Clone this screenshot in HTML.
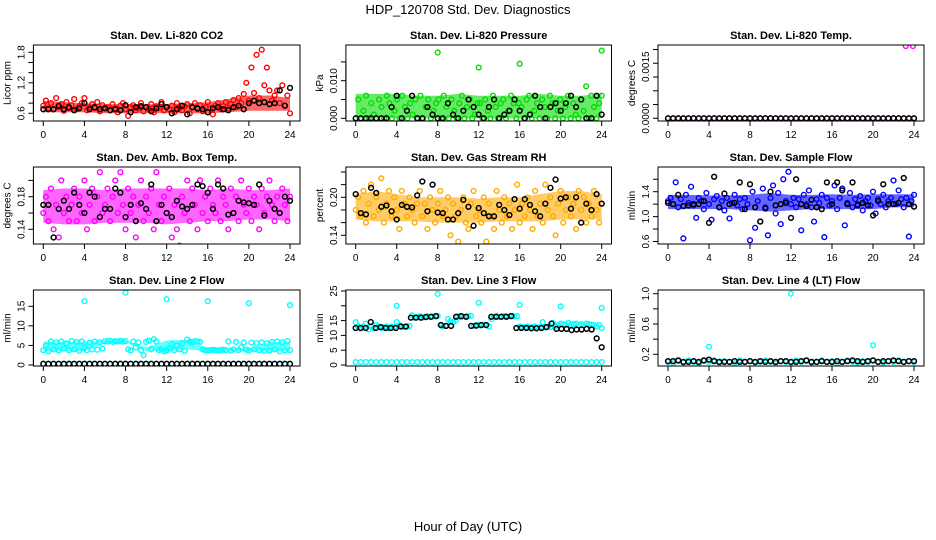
<!DOCTYPE html>
<html><head><meta charset="utf-8"><style>
html,body{margin:0;padding:0;background:#fff;}
svg{display:block;font-family:"Liberation Sans",Arial,sans-serif;}
</style></head><body>
<svg id="chart" width="936" height="540" viewBox="0 0 936 540" xmlns="http://www.w3.org/2000/svg">
<text x="468" y="14" text-anchor="middle" font-size="13">HDP_120708  Std. Dev. Diagnostics</text>
<text x="468" y="531" text-anchor="middle" font-size="13">Hour of Day (UTC)</text>
<g id="panels"></g>
</svg>
<script>
// ---- data ----
const xTicks = [0,4,8,12,16,20,24];

const co2Color = [0.75,0.85,0.7,0.8,0.68,0.9,0.72,0.78,0.65,0.82,0.7,0.76,0.88,0.68,0.74,0.8,0.9,0.66,0.72,0.78,0.7,0.82,0.64,0.76,0.7,
0.72,0.66,0.78,0.7,0.62,0.75,0.8,0.68,0.55,0.72,0.76,0.66,0.7,0.8,0.64,0.72,0.68,0.78,0.62,0.74,0.7,0.82,0.66,0.72,
0.68,0.75,0.62,0.8,0.7,0.66,0.74,0.78,0.6,0.72,0.8,0.68,0.76,0.64,0.72,0.82,0.7,0.58,0.75,0.8,0.68,0.74,0.82,0.7,
0.78,0.86,0.72,0.9,0.8,0.98,1.2,0.85,1.5,1.0,1.75,0.9,1.85,1.15,1.5,1.05,0.85,0.95,1.05,0.8,1.15,0.75,0.95,0.6];
const co2Black = [0.68,0.68,0.68,0.75,0.68,0.72,0.66,0.7,0.8,0.68,0.72,0.68,0.7,0.66,0.68,0.66,0.76,0.62,0.72,0.74,0.72,0.64,0.7,0.78,0.72,0.6,0.68,0.75,0.58,0.72,0.7,0.68,0.62,0.7,0.72,0.68,0.66,0.72,0.75,0.68,0.8,0.85,0.8,0.82,0.78,0.8,1.05,0.75,1.1];
const co2Lo = [0.62,0.62,0.62,0.6,0.6,0.6,0.6,0.6,0.6,0.62,0.65,0.65,0.65];
const co2Hi = [0.85,0.82,0.8,0.78,0.78,0.78,0.78,0.8,0.82,0.88,0.95,0.95,0.9];

const presColor = [0,0.005,0,0.002,0.006,0,0.004,0.001,0,0.005,0.003,0,0.006,0.004,0,0.002,0.005,0,0.006,0.003,0,0.004,0.001,0.005,0,
0.006,0,0.003,0.005,0,0.002,0.004,0.005,0,0.006,0.003,0,0.005,0.002,0,0.004,0.006,0,0.003,0.005,0,0.001,0.004,0.004,
0,0.005,0.002,0,0.006,0.003,0,0.004,0.005,0,0.002,0.006,0.004,0,0.004,0.003,0,0.005,0.006,0,0.002,0.004,0,0.005,
0.003,0,0.006,0.004,0,0.002,0.005,0,0.003,0.006,0,0.004,0.001,0,0.005,0.002,0.0085,0,0.006,0.003,0,0.004,0.006];
const presBlack = [0,0,0,0,0,0,0,0.003,0.006,0,0.002,0.006,0,0,0.003,0.001,0,0,0.004,0.001,0,0.002,0.005,0.003,0.001,0,0.003,0.005,0,0.001,0.002,0.005,0.002,0,0.001,0.006,0.003,0,0.003,0.004,0.002,0.004,0.006,0.003,0.005,0,0,0.006,0.001];
const presLo = [0,0,0,0,0,0,0,0,0,0,0,0,0];
const presHi = [0.0065,0.0065,0.0065,0.006,0.006,0.0065,0.006,0.006,0.006,0.0065,0.006,0.006,0.0065];
const presOutX = [8,12,16,24];
const presOutY = [0.0175,0.0135,0.0145,0.018];

const tempColor = [0,0,0,0,0,0,0,0,0,0,0,0,0,0,0,0,0,0,0,0,0,0,0,0,0,0,0,0,0,0,0,0,0,0,0,0,0,0,0,0,0,0,0,0,0,0,0,0,0];
const tempBlack = [0,0,0,0,0,0,0,0,0,0,0,0,0,0,0,0,0,0,0,0,0,0,0,0,0,0,0,0,0,0,0,0,0,0,0,0,0,0,0,0,0,0,0,0,0,0,0,0,0];
const tempOutX = [23.2,23.9];
const tempOutY = [0.0021,0.0021];

const boxColor = [0.16,0.18,0.15,0.19,0.14,0.17,0.13,0.2,0.16,0.18,0.15,0.17,0.19,0.15,0.18,0.16,0.2,0.14,0.17,0.19,0.15,0.18,0.21,0.16,0.17,
0.19,0.15,0.18,0.2,0.16,0.21,0.17,0.14,0.19,0.16,0.18,0.13,0.17,0.2,0.15,0.18,0.16,0.19,0.14,0.21,0.17,0.15,0.18,
0.16,0.19,0.13,0.17,0.14,0.12,0.18,0.16,0.2,0.15,0.19,0.17,0.14,0.2,0.16,0.18,0.15,0.19,0.17,0.16,0.2,0.15,0.18,0.17,
0.14,0.19,0.16,0.18,0.15,0.2,0.17,0.16,0.19,0.15,0.18,0.17,0.14,0.19,0.16,0.18,0.2,0.17,0.15,0.18,0.16,0.19,0.17,0.15,0.18];
const boxBlack = [0.17,0.17,0.13,0.165,0.175,0.165,0.185,0.17,0.16,0.185,0.18,0.155,0.165,0.165,0.19,0.185,0.155,0.17,0.15,0.172,0.165,0.195,0.15,0.17,0.16,0.155,0.175,0.168,0.165,0.17,0.195,0.193,0.185,0.165,0.195,0.19,0.158,0.16,0.175,0.173,0.172,0.17,0.195,0.157,0.175,0.165,0.16,0.18,0.175];
const boxLo = [0.148,0.146,0.146,0.148,0.148,0.148,0.146,0.148,0.15,0.15,0.152,0.152,0.15];
const boxHi = [0.188,0.19,0.19,0.188,0.19,0.19,0.19,0.19,0.188,0.19,0.188,0.188,0.19];

const rhColor = [0.18,0.2,0.17,0.21,0.16,0.19,0.22,0.17,0.2,0.18,0.23,0.16,0.19,0.21,0.17,0.2,0.18,0.15,0.21,0.19,0.17,0.2,0.18,0.16,0.19,
0.21,0.17,0.19,0.15,0.2,0.18,0.16,0.19,0.21,0.17,0.18,0.2,0.14,0.19,0.17,0.13,0.18,0.2,0.16,0.15,0.19,0.21,0.17,
0.18,0.16,0.2,0.13,0.19,0.17,0.15,0.21,0.18,0.16,0.2,0.17,0.19,0.15,0.18,0.22,0.16,0.19,0.17,0.2,0.18,0.15,0.21,0.17,
0.19,0.16,0.22,0.18,0.2,0.17,0.14,0.19,0.21,0.16,0.18,0.2,0.17,0.19,0.15,0.21,0.18,0.2,0.16,0.19,0.17,0.21,0.18,0.16,0.19];
const rhBlack = [0.205,0.175,0.173,0.215,0.207,0.185,0.187,0.178,0.165,0.188,0.185,0.184,0.203,0.225,0.178,0.22,0.176,0.175,0.165,0.165,0.175,0.196,0.185,0.155,0.183,0.175,0.17,0.17,0.188,0.18,0.172,0.197,0.182,0.197,0.188,0.178,0.17,0.19,0.215,0.228,0.198,0.2,0.182,0.2,0.16,0.19,0.18,0.205,0.19];
const rhLo = [0.165,0.162,0.162,0.162,0.16,0.16,0.16,0.162,0.162,0.162,0.165,0.165,0.165];
const rhHi = [0.205,0.21,0.205,0.2,0.2,0.2,0.198,0.2,0.2,0.205,0.21,0.21,0.205];

const flowColor = [1.25,1.3,1.2,1.55,1.15,1.28,0.65,1.35,1.22,1.48,1.18,0.98,1.3,1.25,1.12,1.38,1.2,0.95,1.28,1.33,1.15,1.25,1.1,1.3,0.97,
1.22,1.35,1.18,1.28,1.12,1.3,1.2,0.62,1.4,0.82,1.25,0.92,1.45,1.15,0.7,1.3,1.5,1.05,1.38,0.88,1.6,1.25,1.72,1.2,
1.3,1.15,1.28,0.78,1.35,1.2,1.42,1.15,0.92,1.28,1.22,1.35,0.67,1.3,1.18,1.25,1.5,1.12,1.3,1.45,0.86,1.22,1.38,
1.15,1.28,1.2,1.33,1.1,1.25,1.3,1.18,1.4,1.05,1.28,1.2,1.35,1.15,1.25,1.3,1.58,1.2,1.42,1.28,1.15,1.3,0.68,1.25,1.35];
const flowBlack = [1.22,1.2,1.35,1.17,1.18,1.2,1.2,1.25,0.9,1.64,1.15,1.37,1.2,1.22,1.55,1.12,1.52,1.15,0.92,1.13,1.4,1.18,1.2,1.22,0.98,1.6,1.2,1.17,1.27,1.15,1.12,1.55,1.2,1.55,1.42,1.2,1.55,1.18,1.22,1.18,1.02,1.25,1.52,1.2,1.2,1.22,1.62,1.2,1.16];
const flowLo = [1.12,1.12,1.12,1.12,1.1,1.08,1.1,1.12,1.12,1.12,1.12,1.15,1.15];
const flowHi = [1.35,1.35,1.34,1.34,1.35,1.38,1.35,1.35,1.36,1.35,1.36,1.36,1.36];

const l2Color = [3.8,5,3.5,6,4,5.8,3.7,6,4.2,5.5,3.8,6.1,4,5.9,3.6,6,4.5,3.8,5.7,4,6,3.9,5.8,4.2,6.1,6,6.2,5.9,6.1,6,6.2,6,6.1,4,3.7,6,4.5,5.8,3.8,2.5,5.9,6.2,4,6.6,6,3.8,4,3.5,3.7,4.2,5.3,3.8,5,4,5.5,3.6,6.5,6,5.8,6.1,6,5.9,4,3.8,3.7,3.8,3.9,3.8,3.7,3.8,3.9,3.8,6,3.7,4,5.9,3.8,4.5,5.8,3.9,3.7,5.7,4,5.6,3.8,5.8,3.6,5.5,3.7,5.9,4,6,3.5,5.8,3.7,6.1,3.8];
const l2Zero = [0.3,0.3,0.3,0.3,0.3,0.3,0.3,0.3,0.3,0.3,0.3,0.3,0.3,0.3,0.3,0.3,0.3,0.3,0.3,0.3,0.3,0.3,0.3,0.3,0.3,0.3,0.3,0.3,0.3,0.3,0.3,0.3,0.3,0.3,0.3,0.3,0.3,0.3,0.3,0.3,0.3,0.3,0.3,0.3,0.3,0.3,0.3,0.3,0.3];
const l2Black = [0.3,0.3,0.3,0.3,0.3,0.3,0.3,0.3,0.3,0.3,0.3,0.3,0.3,0.3,0.3,0.3,0.3,0.3,0.3,0.3,0.3,0.3,0.3,0.3,0.3,0.3,0.3,0.3,0.3,0.3,0.3,0.3,0.3,0.3,0.3,0.3,0.3,0.3,0.3,0.3,0.3,0.3,0.3,0.3,0.3,0.3,0.3,0.3,0.3];
const l2Lo = [3.5,3.5,3.5,5.6,5.8,3.5,3.5,4,3.5,3.5,3.5,3.5,3.5];
const l2Hi = [6,6,6,6.2,6.3,4.5,6.3,6.5,4.2,4.2,4.2,5.8,6];
const l2OutX = [4,8,12,16,20,24];
const l2OutY = [16.3,18.5,16.8,16.3,15.8,15.3];

const l3Color = [14.5,13,12.5,13,14,12,13,12.5,13.5,13,12.5,12.8,13,12.5,13,12.8,14.5,13.5,13,12.8,13,13.2,16.8,16,16.2,16.5,16,16.3,16.5,16.2,16.4,16.5,16.6,13.5,13,13.2,15.5,14.8,14.5,15,16.5,16.2,16.4,16.3,16.5,16.6,13.2,13.5,13.5,13.4,13.6,13.5,13,15.5,16.3,16.5,16.2,16.4,16.5,16.3,16.5,16.6,16.4,16.5,13,12.8,12.8,13,12.7,12.8,13,12.6,12.8,14.5,12.7,13,12.8,14.2,13,13.5,14,13.8,13.5,14.2,13.6,13.8,14,13.5,13.8,13.5,14,13.8,13.6,13.5,13,13.5,12.5];
const l3Low = [1,1,1,1,1,1,1,1,1,1,1,1,1,1,1,1,1,1,1,1,1,1,1,1,1,1,1,1,1,1,1,1,1,1,1,1,1,1,1,1,1,1,1,1,1,1,1,1,1];
const l3Black = [12.5,12.5,12.5,14.5,12.5,12.8,12.5,12.5,12.5,13,13,16,16,16,16.2,16.3,16.5,13.5,13.2,13.2,16.3,16.5,16.3,13.2,13.3,13.5,13.5,16.3,16.3,16.3,16.3,16.5,12.5,12.5,12.5,12.4,12.4,12.5,12.8,14,12.2,12.2,12.2,11.8,12,12,12.2,12,9,6];
const l3OutX = [4,8,12,16,20,24];
const l3OutY = [20,24,21,20.3,19.8,19.3];

const l4Color = [0.1,0.08,0.11,0.09,0.12,0.1,0.08,0.11,0.1,0.12,0.09,0.11,0.1,0.08,0.12,0.1,0.11,0.09,0.1,0.12,0.1,0.08,0.11,0.1,0.09,0.12,0.1,0.11,0.09,0.1,0.12,0.1,0.11,0.08,0.1,0.12,0.1,0.09,0.11,0.1,0.12,0.1,0.09,0.11,0.1,0.12,0.1,0.11,0.1];
const l4Black = [0.11,0.11,0.12,0.1,0.1,0.11,0.1,0.12,0.13,0.11,0.1,0.1,0.1,0.11,0.1,0.1,0.11,0.1,0.11,0.1,0.11,0.1,0.11,0.11,0.1,0.1,0.11,0.12,0.1,0.1,0.11,0.1,0.1,0.11,0.1,0.11,0.12,0.11,0.1,0.11,0.12,0.1,0.11,0.11,0.12,0.11,0.1,0.11,0.11];
const l4OutX = [4,12,20];
const l4OutY = [0.3,1.0,0.32];

// ---- layout ----
const NS = 'http://www.w3.org/2000/svg';
const cols = [{l:33.4,r:300,x0:43.3,x24:290},{l:345.9,r:611.5,x0:355.7,x24:601.7},{l:658,r:924,x0:668,x24:914}];
const rows = [{t:45,b:121},{t:167,b:244},{t:290,b:366}];

const panels = [
 {name:'co2',title:'Stan. Dev. Li-820 CO2',ylab:'Licor ppm',c:0,r:0,color:'#ff0000',v0:0.6,p0:113.3,v1:1.8,p1:52.3,ticks:[0.6,0.8,1.0,1.2,1.4,1.6,1.8],labels:['0.6','1.2','1.8'],labelVals:[0.6,1.2,1.8],series:[co2Color],black:co2Black,lo:co2Lo,hi:co2Hi},
 {name:'pressure',title:'Stan. Dev. Li-820 Pressure',ylab:'kPa',c:1,r:0,color:'#00dd00',v0:0,p0:118.3,v1:0.010,p1:80.7,ticks:[0,0.005,0.010,0.015],labels:['0.000','0.010'],labelVals:[0,0.010],series:[presColor],black:presBlack,lo:presLo,hi:presHi,ox:presOutX,oy:presOutY},
 {name:'temp',title:'Stan. Dev. Li-820 Temp.',ylab:'degrees C',c:2,r:0,color:'#ff00ff',v0:0,p0:118.3,v1:0.0015,p1:66.7,ticks:[0,0.0004,0.0008,0.0012,0.0016,0.0020],labels:['0.0000','0.0015'],labelVals:[0,0.0015],series:[tempColor],black:tempBlack,ox:tempOutX,oy:tempOutY},
 {name:'box-temp',title:'Stan. Dev. Amb. Box Temp.',ylab:'degrees C',c:0,r:1,color:'#ff00ff',v0:0.14,p0:229.3,v1:0.18,p1:196.7,ticks:[0.14,0.16,0.18,0.20],labels:['0.14','0.18'],labelVals:[0.14,0.18],series:[boxColor],black:boxBlack,lo:boxLo,hi:boxHi},
 {name:'gas-rh',title:'Stan. Dev. Gas Stream RH',ylab:'percent',c:1,r:1,color:'#ffaa00',v0:0.14,p0:235.3,v1:0.20,p1:197.3,ticks:[0.14,0.16,0.18,0.20,0.22,0.24],labels:['0.14','0.20'],labelVals:[0.14,0.20],series:[rhColor],black:rhBlack,lo:rhLo,hi:rhHi},
 {name:'sample-flow',title:'Stan. Dev. Sample Flow',ylab:'ml/min',c:2,r:1,color:'#0000ff',v0:0.6,p0:241.5,v1:1.4,p1:191.7,ticks:[0.6,0.8,1.0,1.2,1.4,1.6],labels:['0.6','1.0','1.4'],labelVals:[0.6,1.0,1.4],series:[flowColor],black:flowBlack,lo:flowLo,hi:flowHi},
 {name:'line2-flow',title:'Stan. Dev. Line 2 Flow',ylab:'ml/min',c:0,r:2,color:'#00ffff',v0:0,p0:365,v1:15,p1:306.3,ticks:[0,5,10,15],labels:['0','5','10','15'],labelVals:[0,5,10,15],series:[l2Color,l2Zero],black:l2Black,lo:l2Lo,hi:l2Hi,ox:l2OutX,oy:l2OutY},
 {name:'line3-flow',title:'Stan. Dev. Line 3 Flow',ylab:'ml/min',c:1,r:2,color:'#00ffff',v0:0,p0:365,v1:25,p1:291,ticks:[0,5,10,15,20,25],labels:['0','5','10','15','25'],labelVals:[0,5,10,15,25],series:[l3Color,l3Low],black:l3Black,ox:l3OutX,oy:l3OutY},
 {name:'line4-flow',title:'Stan. Dev. Line 4 (LT) Flow',ylab:'ml/min',c:2,r:2,color:'#00ffff',v0:0.2,p0:354.3,v1:1.0,p1:293.7,ticks:[0.2,0.4,0.6,0.8,1.0],labels:['0.2','0.6','1.0'],labelVals:[0.2,0.6,1.0],series:[l4Color],black:l4Black,ox:l4OutX,oy:l4OutY}
];

const root = document.getElementById('panels');
function mk(tag, attrs, parent){
  const e = document.createElementNS(NS, tag);
  for (const k in attrs) e.setAttribute(k, attrs[k]);
  parent.appendChild(e);
  return e;
}

panels.forEach(p => {
  const col = cols[p.c], row = rows[p.r];
  const xs = h => col.x0 + (col.x24 - col.x0) * h / 24;
  const ys = v => p.p0 + (p.p1 - p.p0) * (v - p.v0) / (p.v1 - p.v0);
  const g = mk('g', {}, root);
  
  
  const clipId = 'clip-' + p.name;
  const cp = mk('clipPath', {id: clipId}, g);
  mk('rect', {x: col.l, y: row.t, width: col.r - col.l, height: row.b - row.t}, cp);
  const plot = mk('g', {'clip-path': 'url(#' + clipId + ')'}, g);
  
  

  if (p.lo && p.hi) {
    const n = p.lo.length;
    let pts = [];
    for (let i = 0; i < n; i++) pts.push(xs(i * 24 / (n - 1)) + ',' + ys(p.hi[i]));
    for (let i = n - 1; i >= 0; i--) pts.push(xs(i * 24 / (n - 1)) + ',' + ys(p.lo[i]));
    const band = mk('polygon', {points: pts.join(' '), fill: p.color, 'fill-opacity': 0.6}, plot);
    
    
  }
  p.series.forEach((arr, si) => {
    const n = arr.length;
    arr.forEach((v, i) => {
      const c = mk('circle', {cx: xs(i * 24 / (n - 1)), cy: ys(v), r: 2.4, fill: 'none', stroke: p.color, 'stroke-width': 1.4}, plot);
      
      
    });
  });
  if (p.ox) {
    p.ox.forEach((h, i) => {
      const c = mk('circle', {cx: xs(h), cy: ys(p.oy[i]), r: 2.4, fill: 'none', stroke: p.color, 'stroke-width': 1.4}, plot);
      
      
    });
  }
  const nb = p.black.length;
  p.black.forEach((v, i) => {
    const c = mk('circle', {cx: xs(i * 24 / (nb - 1)), cy: ys(v), r: 2.4, fill: 'none', stroke: '#000', 'stroke-width': 1.5}, plot);
    
    
  });

  const frame = mk('rect', {x: col.l, y: row.t, width: col.r - col.l, height: row.b - row.t, fill: 'none', stroke: '#000', 'stroke-width': 1}, g);
  
  

  const t = mk('text', {x: (col.l + col.r) / 2, y: row.t - 6, 'text-anchor': 'middle', 'font-size': 11, 'font-weight': 'bold'}, g);
  t.textContent = p.title;
  
  

  const xa = mk('g', {}, g);
  
  
  mk('line', {x1: xs(0), x2: xs(24), y1: row.b, y2: row.b, stroke: '#000'}, xa);
  xTicks.forEach(h => {
    mk('line', {x1: xs(h), x2: xs(h), y1: row.b, y2: row.b + 5, stroke: '#000'}, xa);
    const lt = mk('text', {x: xs(h), y: row.b + 17, 'text-anchor': 'middle', 'font-size': 10}, xa);
    lt.textContent = String(h);
    
    
  });

  const ya = mk('g', {}, g);
  
  
  const yMin = ys(p.ticks[0]), yMax = ys(p.ticks[p.ticks.length - 1]);
  mk('line', {x1: col.l, x2: col.l, y1: yMin, y2: yMax, stroke: '#000'}, ya);
  p.ticks.forEach(v => {
    mk('line', {x1: col.l - 5, x2: col.l, y1: ys(v), y2: ys(v), stroke: '#000'}, ya);
  });
  p.labelVals.forEach((v, i) => {
    const lx = col.l - 9, ly = ys(v);
    const lt = mk('text', {x: lx, y: ly, 'text-anchor': 'middle', 'font-size': 10, transform: 'rotate(-90 ' + lx + ' ' + ly + ')'}, ya);
    lt.textContent = p.labels[i];
    
    
  });
  const yx = col.l - 23, yy = (row.t + row.b) / 2;
  const yl = mk('text', {x: yx, y: yy, 'text-anchor': 'middle', 'font-size': 10, transform: 'rotate(-90 ' + yx + ' ' + yy + ')'}, g);
  yl.textContent = p.ylab;
  
  
});
</script>
</body></html>
